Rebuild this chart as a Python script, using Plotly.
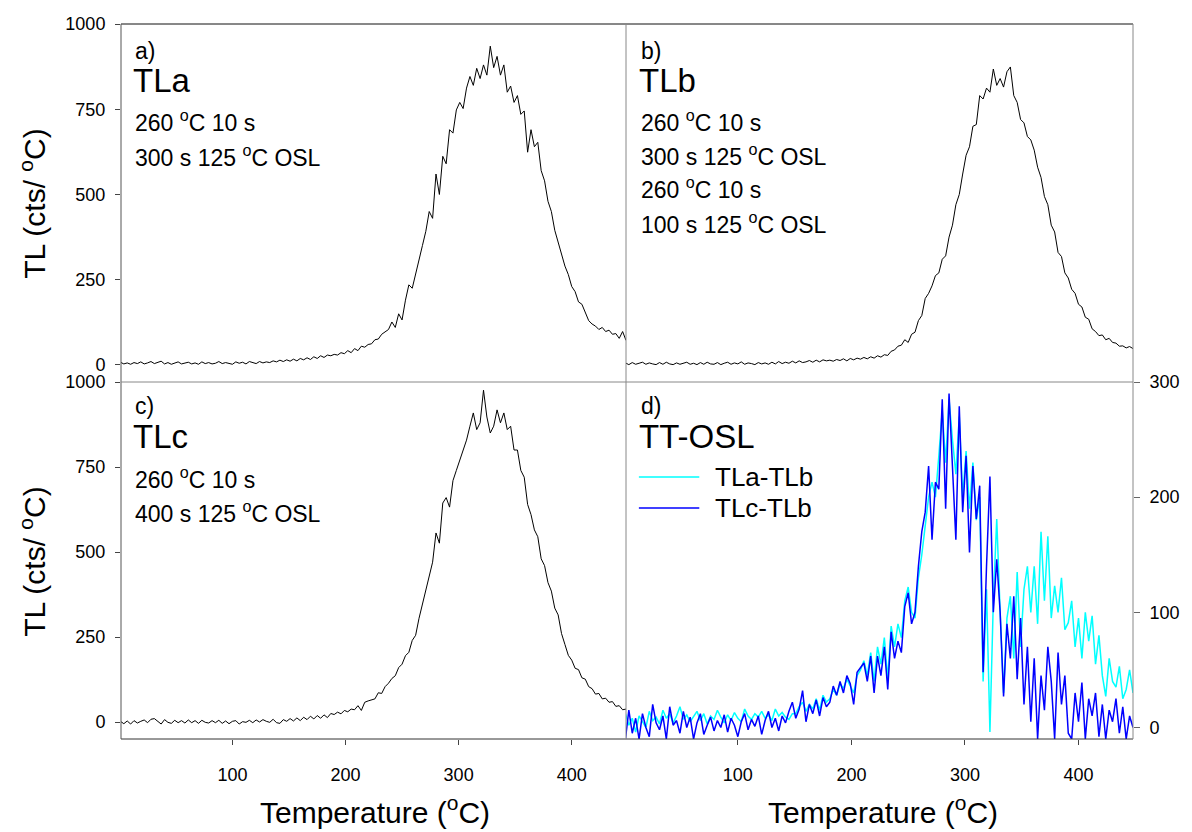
import plotly.graph_objects as go

# ---------------- data ----------------
temps = list(range(1, 449, 3))  # temperature grid, deg C

tla = [
    8, 3, 6, 2, 7, 4, 9, 3, 6, 10,
    4, 8, 11, 3, 7, 2, 6, 9, 3, 5,
    8, 3, 6, 2, 9, 4, 7, 3, 5, 10,
    4, 7, 5, 2, 9, 5, 8, 3, 10, 6,
    4, 10, 6, 9, 7, 12, 9, 14, 10, 15,
    11, 17, 12, 19, 15, 21, 16, 24, 19, 27,
    22, 29, 27, 31, 29, 36, 33, 42, 36, 48,
    42, 55, 52, 60, 62, 74, 76, 90, 96, 104,
    126, 110, 150, 132, 190, 235, 225, 266, 300, 350,
    392, 450, 430, 560, 500, 612, 590, 690, 680, 748,
    770, 752, 812, 846, 820, 870, 840, 880, 850, 935,
    872, 905, 850, 880, 800, 818, 770, 790, 735, 745,
    624, 690, 640, 653, 570, 540, 480, 450, 395, 360,
    325, 290, 265, 230, 215, 185, 178, 155, 130, 120,
    114, 104, 110, 98, 102, 90, 92, 78, 98, 72,
]

tlb = [
    6, 1, 7, 2, 5, 8, 2, 6, 3, 1,
    7, 2, 8, 3, 1, 6, 2, 5, 8, 2,
    5, 1, 7, 2, 8, 3, 2, 7, 1, 5,
    8, 2, 6, 3, 9, 2, 6, 4, 1, 7,
    3, 6, 2, 8, 3, 10, 4, 8, 5, 11,
    6, 12, 7, 9, 13, 8, 14, 9, 15, 12,
    14, 11, 16, 13, 18, 12, 19, 15, 20, 17,
    22, 18, 24, 20, 27, 23, 30, 28, 40, 44,
    55, 58, 74, 66, 90, 96, 130, 145, 195, 210,
    232, 262, 270, 310, 320, 375, 410, 470, 500, 560,
    615, 640, 700, 705, 790, 780, 812, 800, 868, 820,
    840, 815, 860, 874, 790, 770, 720, 710, 670, 660,
    630, 580, 550, 494, 470, 410, 390, 330, 318, 270,
    255, 222, 210, 178, 170, 140, 134, 106, 98, 86,
    88, 74, 78, 66, 64, 55, 56, 50, 54, 48,
]

tlc = [
    2, -5, 3, -6, 4, -3, 2, 6, -2, 8,
    10, 1, -6, 7, -1, -4, 5, -2, 4, -3,
    6, -2, 4, -4, 5, -1, -3, 4, -2, 5,
    -4, 3, -5, 2, 4, -6, 1, -1, 5, -2,
    6, 0, 7, 2, -1, 8, -2, -4, 7, 2,
    10, 3, 12, 4, 14, 7, 17, 9, 19, 11,
    21, 13, 25, 22, 29, 24, 34, 30, 38, 36,
    48, 34, 58, 62, 66, 68, 86, 84, 104, 114,
    128, 136, 160, 170, 195, 205, 240, 255, 305, 345,
    390, 426, 470, 556, 526, 644, 660, 632, 710, 740,
    771, 800, 829, 870, 909, 860, 880, 976, 897, 850,
    870, 918, 880, 909, 860, 870, 800, 800, 740, 720,
    640, 610, 565, 545, 480, 460, 410, 385, 335, 315,
    260, 228, 196, 182, 158, 154, 130, 126, 104, 98,
    82, 84, 68, 70, 58, 60, 46, 48, 36, 38,
]

tla_minus_tlb = [
    12, 2, 8, -4, 10, 5, 0, 14, 6, 9,
    3, 15, 8, 12, 4, 10, 18, 7, 11, 5,
    9, 14, 6, 12, 3, 10, 7, 15, 9, 4,
    11, 6, 13, 8, 5, 16, 10, 7, 12, 9,
    14, 8, 11, 6, 16, 10, 13, 9, 7, 12,
    12, 18, 22, 14, 20, 16, 25, 15, 28, 22,
    25, 33, 28, 38, 34, 42, 36, 30, 45, 50,
    58, 45, 65, 40, 70, 55, 78, 42, 88, 70,
    90, 78, 110, 122, 100, 95, 130, 150, 175, 200,
    213, 200, 236, 275, 230, 285, 250, 220, 270, 200,
    240, 190, 230, 180, 200, 40, 120, -4, 110, 181,
    100, 30, 95, 114, 60, 135, 70, 120, 140, 100,
    140, 90, 170, 110, 166, 95, 123, 100, 130, 85,
    91, 110, 70, 95, 60, 100, 75, 97, 55, 80,
    45, 27, 60, 40, 35, 53, 25, 33, 50, 30,
]

tlc_minus_tlb = [
    -10, 15, -5, 8, -10, 12, 0, -8, 20, 4,
    -2, 10, -10, 18, 2, 6, -5, 14, 0, 9,
    -10, 4, 12, -6, 2, 9, -3, 6, 0, 11,
    -4, 8, 2, -8, 5, 12, -2, 7, 1, 10,
    -6, 6, 14, 0, 8, -3, 10, 4, 14, 22,
    8, 16, 32, 5, 20, 12, 24, 10, 26, 18,
    22, 36, 28, 40, 30, 45, 38, 20, 48, 52,
    56, 40, 62, 30, 62, 45, 70, 33, 83, 60,
    75, 65, 105, 117, 90, 100, 140, 170, 187, 227,
    163, 213, 207, 285, 190, 290, 230, 163, 279, 187,
    236, 152, 227, 181, 210, 48, 140, 218, 100, 146,
    100, 27, 90, 60, 114, 42, 95, 20, 70, 5,
    60, -10, 45, 15, 70, 40, -10, 65, 20, 45,
    -5, -10, 30, 5, 39, -10, 25, 10, 30, -8,
    20, -10, 15, 5, 25, -5, 18, -10, 10, 0,
]

tl_ticks = [0, 250, 500, 750, 1000]
tt_ticks = [0, 100, 200, 300]
t_ticks = [100, 200, 300, 400]

# ---------------- geometry ----------------
W, H = 1192, 832
ML, MR, MT, MB = 121, 49, 24, 93
PW = W - ML - MR
PH = H - MT - MB
XS = (631 - ML) / PW
YS = (H - MB - 382) / PH


def px(x):
    return (x - ML) / PW


def py(y):
    return (H - MB - y) / PH


FONT = "Liberation Sans, Arial, sans-serif"
SUP = "<sup>o</sup>"

fig = go.Figure()
fig.add_trace(go.Scatter(x=temps, y=tla, xaxis="x", yaxis="y", mode="lines",
                         line=dict(color="black", width=1), showlegend=False))
fig.add_trace(go.Scatter(x=temps, y=tlb, xaxis="x2", yaxis="y2", mode="lines",
                         line=dict(color="black", width=1), showlegend=False))
fig.add_trace(go.Scatter(x=temps, y=tlc, xaxis="x3", yaxis="y3", mode="lines",
                         line=dict(color="black", width=1), showlegend=False))
fig.add_trace(go.Scatter(x=temps, y=tla_minus_tlb, xaxis="x4", yaxis="y4", mode="lines",
                         line=dict(color="#00FFFF", width=1.5), showlegend=False))
fig.add_trace(go.Scatter(x=temps, y=tlc_minus_tlb, xaxis="x4", yaxis="y4", mode="lines",
                         line=dict(color="#0000FF", width=1.5), showlegend=False))

xr = [1.5, 448]
common = dict(showgrid=False, zeroline=False, showline=False)
tickfont = dict(family=FONT, size=18, color="black")

fig.update_layout(
    width=W, height=H,
    margin=dict(l=ML, r=MR, t=MT, b=MB, pad=0),
    paper_bgcolor="white", plot_bgcolor="white",
    font=dict(family=FONT, color="black"),
    xaxis=dict(domain=[0, XS], range=xr, anchor="y", showticklabels=False, ticks="", **common),
    xaxis2=dict(domain=[XS, 1], range=xr, anchor="y2", showticklabels=False, ticks="", **common),
    xaxis3=dict(domain=[0, XS], range=xr, anchor="y3", tickmode="array", tickvals=t_ticks,
                ticks="outside", ticklen=5, tickcolor="#444", tickfont=tickfont,
                ticklabelstandoff=14, **common),
    xaxis4=dict(domain=[XS, 1], range=xr, anchor="y4", tickmode="array", tickvals=t_ticks,
                ticks="outside", ticklen=5, tickcolor="#444", tickfont=tickfont,
                ticklabelstandoff=14, **common),
    yaxis=dict(domain=[YS, 1], range=[-50, 1000], anchor="x", tickmode="array", tickvals=tl_ticks,
               ticks="outside", ticklen=5, tickcolor="#444", tickfont=tickfont,
               ticklabelstandoff=6, **common),
    yaxis2=dict(domain=[YS, 1], range=[-50, 1000], anchor="x2", showticklabels=False, ticks="", **common),
    yaxis3=dict(domain=[0, YS], range=[-50, 1000], anchor="x3", tickmode="array", tickvals=tl_ticks,
                ticks="outside", ticklen=5, tickcolor="#444", tickfont=tickfont,
                ticklabelstandoff=6, **common),
    yaxis4=dict(domain=[0, YS], range=[-10, 300], anchor="x4", side="right", tickmode="array",
                tickvals=tt_ticks, ticks="outside", ticklen=6, tickcolor="#666", tickfont=tickfont,
                ticklabelstandoff=6, **common),
)

# frame lines
frame = [
    (0, 1, 1, 1, "#111"),
    (0, 1, 0, 0, "#333"),
    (0, 0, 0, 1, "#555"),
    (1, 1, 0, 1, "#888"),
    (0, 1, YS, YS, "#888"),
    (XS, XS, 0, 1, "#888"),
]
for x0, x1, y0, y1, c in frame:
    fig.add_shape(type="line", xref="paper", yref="paper", x0=x0, x1=x1, y0=y0, y1=y1,
                  line=dict(color=c, width=1), layer="above")

# legend sample lines (panel d)
for yy, c in [(477, "#00FFFF"), (508, "#0000FF")]:
    fig.add_shape(type="line", xref="paper", yref="paper", x0=px(644), x1=px(705),
                  y0=py(yy), y1=py(yy), line=dict(color=c, width=1.5))


def note(text, x, y, size, anchor="left", angle=0, xanchor=None):
    fig.add_annotation(text=text, xref="paper", yref="paper", x=px(x), y=py(y),
                       xanchor=xanchor or anchor, yanchor="middle", showarrow=False,
                       textangle=angle, font=dict(family=FONT, size=size, color="black"))


# panel texts
note("a)", 133, 51, 23)
note("TLa", 131, 80, 33)
note("260 " + SUP + "C 10 s", 133, 121, 23)
note("300 s 125 " + SUP + "C OSL", 133, 156, 23)

note("b)", 644, 51, 23)
note("TLb", 642, 80, 33)
note("260 " + SUP + "C 10 s", 644, 121, 23)
note("300 s 125 " + SUP + "C OSL", 644, 155, 23)
note("260 " + SUP + "C 10 s", 644, 188, 23)
note("100 s 125 " + SUP + "C OSL", 644, 223, 23)

note("c)", 133, 406, 23)
note("TLc", 131, 436, 33)
note("260 " + SUP + "C 10 s", 133, 478, 23)
note("400 s 125 " + SUP + "C OSL", 133, 512, 23)

note("d)", 644, 406, 23)
note("TT-OSL", 642, 436, 33)
note("TLa-TLb", 719, 477, 26)
note("TLc-TLb", 719, 508, 26)

# axis titles
note("TL (cts/ " + SUP + "C)", 32, 203, 30, angle=-90, xanchor="center")
note("TL (cts/ " + SUP + "C)", 32, 561, 30, angle=-90, xanchor="center")
note("Temperature (" + SUP + "C)", 378, 810, 30, xanchor="center")
note("Temperature (" + SUP + "C)", 891, 810, 30, xanchor="center")

fig.write_html("out.html")
